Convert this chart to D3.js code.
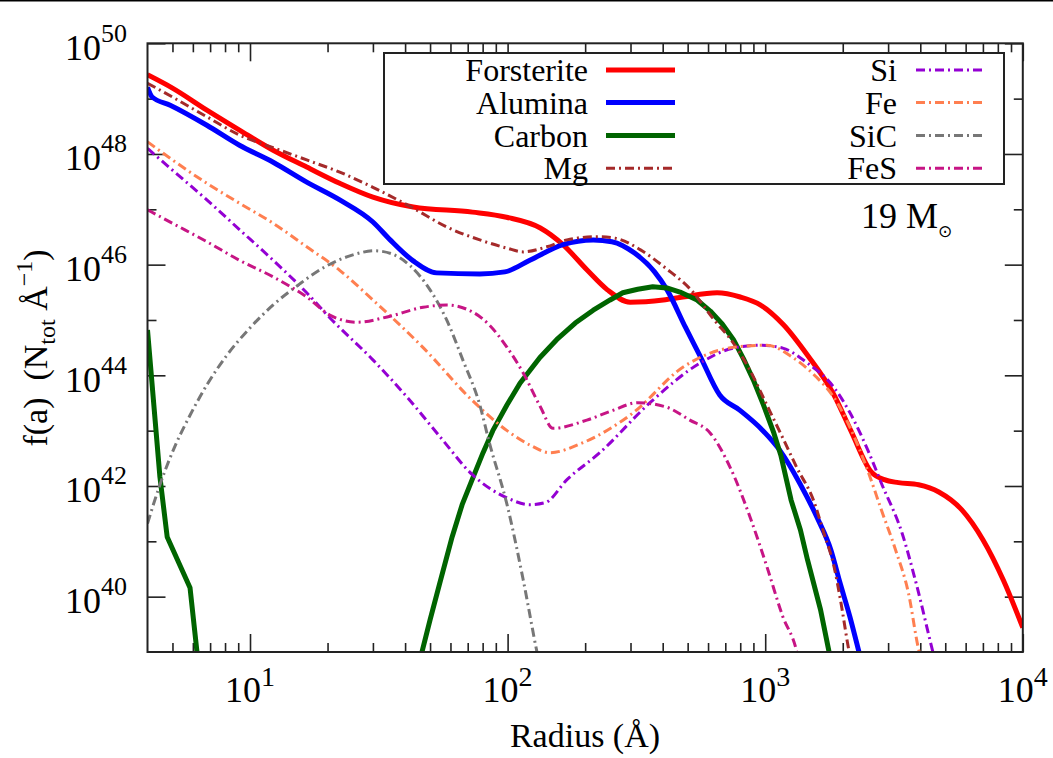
<!DOCTYPE html>
<html><head><meta charset="utf-8">
<script src="https://cdn.jsdelivr.net/npm/d3@7"></script>
<style>
body{margin:0;background:#fff}
svg{display:block}
text{font-family:"Liberation Serif","Times New Roman",serif;fill:#000}
</style></head>
<body><svg id="c" width="1053" height="758"></svg>
<script>
// ---- data: [radius (Å), f(a) (N_tot Å^-1)] ----
const forsterite = [[4.0,2.7e49],[5.0,1.55e49],[6.8,6.2e48],[9.1,2.7e48],[12.3,1.17e48],[16.6,5.8e47],[22.3,2.95e47],[30,1.66e47],[43,1.1e47],[73,8.9e46],[99,7.2e46],[134,4.6e46],[164,2.3e46],[204,7.9e45],[244,3.5e45],[299,2.1e45],[402,2.3e45],[479,2.6e45],[650,3.1e45],[800,2.6e45],[960,1.86e45],[1180,8.1e44],[1460,2.3e44],[1845,4.5e43],[2150,1.0e43],[2580,1.8e42],[2900,1.3e42],[3290,1.15e42],[3940,1.05e42],[4720,7.8e41],[5800,3.7e41],[7000,1.07e41],[8400,2.0e40],[10000,2.75e39]];
const alumina = [[4.0,1.6e49],[4.17,1.07e49],[4.9,7.6e48],[6.8,3.3e48],[9.1,1.44e48],[12.3,7.1e47],[16.6,3.1e47],[22.3,1.48e47],[30,5.9e46],[35,2.8e46],[43,1.17e46],[53,7.1e45],[78,6.8e45],[97.5,7.4e45],[122,1.2e46],[164,2.3e46],[215,2.8e46],[254,2.6e46],[312,1.6e46],[372,7.4e45],[416,3.5e45],[490,7.4e44],[557,2.3e44],[666,4.4e43],[796,2.35e43],[980,1.0e43],[1140,4.4e42],[1365,1.1e42],[1590,2.7e41],[1800,6.9e40],[1950,1.8e40],[2130,4.4e39],[2300,1.1e39],[2400,5e38]];
const carbon = [[4.0,6.6e44],[4.47,1.45e42],[4.77,1.2e41],[5.85,1.45e40],[6.3,6e38],[20,null],[44,5e38],[46.5,1e39],[50,3.8e39],[54.6,1.8e40],[60.9,1.2e41],[66.6,4.6e41],[73.5,1.45e42],[80.3,4.0e42],[87.6,1.0e43],[99.4,2.9e43],[111.7,7.2e43],[133.5,2.1e44],[155,4.4e44],[183,8.8e44],[215,1.5e45],[250,2.3e45],[280,3.1e45],[320,3.6e45],[366,4.0e45],[415,3.8e45],[467,3.2e45],[544,2.3e45],[612,1.45e45],[681,8.5e44],[753,4.4e44],[823,2.0e44],[900,8.2e43],[985,2.9e43],[1080,9.1e42],[1150,3.6e42],[1260,5.6e41],[1370,1.6e41],[1460,4.6e40],[1640,5.8e39],[1770,1e39],[1800,8e38]];
const mg = [[4.0,1.9e49],[5.0,1.07e49],[6.8,4.7e48],[9.1,2.2e48],[12.3,1.3e48],[16.6,7.8e47],[22.3,4.7e47],[30,2.5e47],[43,1.05e47],[58,4.8e46],[78,2.8e46],[99,2.0e46],[115,1.7e46],[142,2.1e46],[170,2.8e46],[222,3.2e46],[262,3.0e46],[328,1.85e46],[410,8.7e45],[515,3.5e45],[634,1.0e45],[753,3.8e44],[873,1.23e44],[1015,2.9e43],[1180,6.8e42],[1330,2.1e42],[1540,5.5e41],[1690,1.4e41],[1850,3.5e40],[1960,8.7e39],[2110,1.1e39],[2150,7e38]];
const si = [[4.0,1.26e48],[5.0,5.1e47],[6.8,1.48e47],[9.1,4.3e46],[12.3,1.2e46],[16.6,3.1e45],[20.4,1.1e45],[30,1.9e44],[40.6,4.1e43],[54.6,7.8e42],[73,1.6e42],[99.5,6.1e41],[122,4.6e41],[140,5.0e41],[170,1.3e42],[228,4.0e42],[357,3.2e43],[558,1.66e44],[750,3.1e44],[960,3.5e44],[1170,3.1e44],[1450,1.7e44],[1840,6.2e43],[2134,2.1e43],[2500,4.5e42],[2830,1.1e42],[3400,1.4e41],[3860,1.7e40],[4460,1.07e39],[4600,6e38]];
const fe = [[4.0,1.66e48],[5.0,7.8e47],[6.8,2.95e47],[9.1,1.29e47],[12.3,5.6e46],[16.6,2.1e46],[22.3,7.9e45],[30,2.3e45],[46.9,3.2e44],[73,3.5e43],[99.5,1.0e43],[122,5.5e42],[146,4.0e42],[195,6.0e42],[307,2.1e43],[479,1.4e44],[750,3.2e44],[1015,3.5e44],[1280,2.1e44],[1580,9.3e43],[1840,4.1e43],[2134,1.15e43],[2500,1.9e42],[2830,3.6e41],[3210,6.9e40],[3600,1.15e40],[3950,1.07e39],[4100,6e38]];
const sic = [[4.0,2.1e41],[4.47,1.05e42],[5.1,5.1e42],[5.85,1.9e43],[6.8,6.7e43],[8.1,2.25e44],[10,7.2e44],[12.3,1.87e45],[15.6,4.5e45],[19.5,9.1e45],[24.4,1.44e46],[30.5,1.78e46],[35.6,1.56e46],[41.9,9.5e45],[50,3.5e45],[58,1.0e45],[67,1.9e44],[78,2.9e43],[85,6.0e42],[99.5,4.6e41],[115,2.0e40],[130,1e39],[133,6e38]];
const fes = [[4.0,9.8e46],[5.0,5.6e46],[6.8,2.6e46],[9.1,1.2e46],[12.3,6.0e45],[16.6,2.6e45],[20.4,1.23e45],[26,9.1e44],[35,1.17e45],[47,1.7e45],[58,1.86e45],[73,1.4e45],[85,8.1e44],[99.5,3.2e44],[115,1.1e44],[134,2.7e43],[150,1.1e43],[203,1.55e43],[255,2.3e43],[320,3.2e43],[410,2.7e43],[510,1.55e43],[611,9.1e42],[730,2.2e42],[873,2.75e41],[1015,3.5e40],[1170,4.4e39],[1320,1.1e39],[1360,6e38]];

const seriesNames = ["Forsterite","Alumina","Carbon","Mg","Si","Fe","SiC","FeS"];
const seriesColors = ["#ff0000","#0000ff","#006400","#a52a2a","#9400d3","#ff7f50","#777777","#c71585"];
const seriesData = [forsterite, alumina, carbon, mg, si, fe, sic, fes];
const seriesSolid = [true,true,true,false,false,false,false,false];

const xMajorTicks = [10,100,1000,10000];
const xMinorTicks = [5,6,7,8,9,20,30,40,50,60,70,80,90,200,300,400,500,600,700,800,900,2000,3000,4000,5000,6000,7000,8000,9000];
const yMajorExp = [40,42,44,46,48,50];
const yMinorExp = [41,43,45,47,49];
const massLabel = "19 M";

// ---- layout ----
const W = 1053, H = 758;
const L = 147.5, R = 1022.8, T = 43.3, B = 652;
const svg = d3.select("#c");
svg.append("rect").attr("width", W).attr("height", H).attr("fill", "#fff");
svg.append("line").attr("x1",0).attr("x2",W).attr("y1",0.75).attr("y2",0.75).attr("stroke","#000").attr("stroke-width",1.5);

const x = d3.scaleLog().domain([4, 1e4]).range([L, R]);
const y = d3.scaleLog().domain([1e39, 1e50]).range([B, T]);

svg.append("clipPath").attr("id","clip").append("rect")
  .attr("x", L).attr("y", T).attr("width", R - L).attr("height", B - T);

// ---- ticks with d3 axes (inward) ----
function axisG(axis, tx, ty){
  const g = svg.append("g").attr("transform", `translate(${tx},${ty})`).call(axis);
  g.select(".domain").remove();
  g.selectAll("line").attr("stroke","#222").attr("stroke-width",1.6);
  g.selectAll("text").remove();
  return g;
}
axisG(d3.axisBottom(x).tickValues(xMajorTicks).tickSize(-18).tickFormat(""), 0, B);
axisG(d3.axisBottom(x).tickValues(xMinorTicks).tickSize(-9).tickFormat(""), 0, B);
axisG(d3.axisTop(x).tickValues(xMajorTicks).tickSize(-18).tickFormat(""), 0, T);
axisG(d3.axisTop(x).tickValues(xMinorTicks).tickSize(-9).tickFormat(""), 0, T);
const yMaj = yMajorExp.map(e => Math.pow(10, e));
const yMin = yMinorExp.map(e => Math.pow(10, e));
axisG(d3.axisLeft(y).tickValues(yMaj).tickSize(-18).tickFormat(""), L, 0);
axisG(d3.axisLeft(y).tickValues(yMin).tickSize(-9).tickFormat(""), L, 0);
axisG(d3.axisRight(y).tickValues(yMaj).tickSize(-18).tickFormat(""), R, 0);
axisG(d3.axisRight(y).tickValues(yMin).tickSize(-9).tickFormat(""), R, 0);

// ---- tick labels ----
yMajorExp.forEach(e => {
  const t = svg.append("text").attr("x", 127).attr("y", y(Math.pow(10,e)) + 16.5)
    .attr("text-anchor","end").attr("font-size", 36).text("10");
  t.append("tspan").attr("dy", -18).attr("font-size", 26).text(e);
});
xMajorTicks.forEach(v => {
  const t = svg.append("text").attr("x", x(v)).attr("y", 702)
    .attr("text-anchor","middle").attr("font-size", 36).text("10");
  t.append("tspan").attr("dy", -16).attr("font-size", 28).text(Math.round(Math.log10(v)));
});

// ---- curves ----
const lineSmooth = d3.line().defined(d => d[1] != null)
  .x(d => x(d[0])).y(d => y(d[1])).curve(d3.curveMonotoneX);
const lineStraight = d3.line().defined(d => d[1] != null)
  .x(d => x(d[0])).y(d => y(d[1])).curve(d3.curveLinear);
const plot = svg.append("g").attr("clip-path","url(#clip)");
seriesData.forEach((data, i) => {
  const gen = seriesNames[i] === "Carbon" ? lineStraight : lineSmooth;
  plot.append("path").datum(data).attr("d", gen)
    .attr("fill","none").attr("stroke", seriesColors[i])
    .attr("stroke-width", seriesSolid[i] ? 5 : 3)
    .attr("stroke-dasharray", seriesSolid[i] ? null : "9,4,2,4")
    .attr("stroke-linejoin","round");
});

// ---- frame ----
svg.append("rect").attr("x", L).attr("y", T).attr("width", R - L).attr("height", B - T)
  .attr("fill","none").attr("stroke","#222").attr("stroke-width",2);

// ---- legend ----
svg.append("rect").attr("x",384).attr("y",53).attr("width",620).attr("height",131)
  .attr("fill","#fff").attr("stroke","#222").attr("stroke-width",2);
const rowY = [70, 102.5, 135.5, 168.3];
seriesNames.forEach((n, i) => {
  const col = i < 4 ? 0 : 1, row = i % 4;
  const tx = col === 0 ? 588 : 897;
  const lx = col === 0 ? 606 : 916;
  svg.append("text").attr("x", tx).attr("y", rowY[row] + 11).attr("text-anchor","end")
    .attr("font-size", 32).text(n);
  svg.append("line").attr("x1", lx).attr("x2", lx + 69).attr("y1", rowY[row]).attr("y2", rowY[row])
    .attr("stroke", seriesColors[i]).attr("stroke-width", seriesSolid[i] ? 5 : 3)
    .attr("stroke-dasharray", seriesSolid[i] ? null : "9,4,2,4");
});

// ---- annotation ----
const ann = svg.append("text").attr("x", 861).attr("y", 228).attr("font-size", 36).text(massLabel);
ann.append("tspan").attr("dy", 9).attr("font-size", 17).attr("font-family","DejaVu Sans").text("⊙");

// ---- axis titles ----
svg.append("text").attr("x", 585).attr("y", 747).attr("text-anchor","middle")
  .attr("font-size", 34).text("Radius (Å)");
const yt = svg.append("text").attr("transform","translate(47,348) rotate(-90)")
  .attr("text-anchor","middle").attr("font-size", 34).style("white-space","pre");
yt.append("tspan").text("f(a)  (N");
yt.append("tspan").attr("dy", 8).attr("font-size", 24).text("tot");
yt.append("tspan").attr("dy", -8).text(" Å");
yt.append("tspan").attr("dy", -15).attr("font-size", 24).text("−1");
yt.append("tspan").attr("dy", 15).text(")");
</script></body></html>
